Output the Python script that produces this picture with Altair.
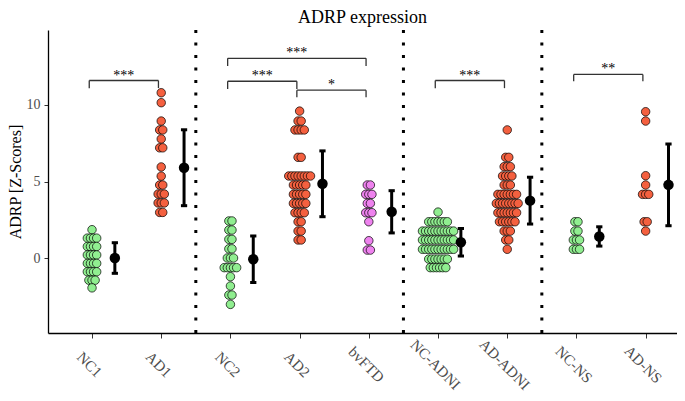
import altair as alt
import pandas as pd

# ---------------- data ----------------
groups = ["NC1", "AD1", "NC2", "AD2", "bvFTD", "NC-ADNI", "AD-ADNI", "NC-NS", "AD-NS"]
group_kind = ["NC", "AD", "NC", "AD", "FTD", "NC", "AD", "NC", "AD"]
studies = [["NC1", "AD1"], ["NC2", "AD2", "bvFTD"], ["NC-ADNI", "AD-ADNI"], ["NC-NS", "AD-NS"]]

nc1_levels = [1.85, 1.3, 0.75, 0.2, -0.35, -0.9, -1.45, -1.95]
nc1_counts = [1, 4, 4, 4, 4, 4, 3, 1]
ad1_levels = [10.8, 10.15, 8.95, 8.37, 7.78, 7.2, 5.95, 5.35, 4.77, 4.18, 3.6, 2.98]
ad1_counts = [1, 1, 1, 2, 1, 2, 1, 1, 2, 3, 3, 2]
nc2_levels = [2.42, 1.83, 1.22, 0.6, 0.0, -0.63, -1.22, -1.83, -2.42, -3.03]
nc2_counts = [2, 2, 2, 2, 3, 5, 1, 1, 2, 1]
ad2_levels = [9.6, 8.95, 8.37, 6.58, 5.36, 4.77, 4.16, 3.57, 2.96, 2.37, 1.76, 1.18]
ad2_counts = [1, 2, 4, 2, 8, 5, 5, 5, 4, 2, 2, 2]
ftd_levels = [4.77, 4.16, 3.57, 2.96, 2.37, 1.13, 0.52]
ftd_counts = [2, 3, 2, 3, 1, 1, 2]
ncadni_levels = [3.0, 2.37, 1.76, 1.18, 0.57, -0.07, -0.63]
ncadni_counts = [1, 7, 11, 11, 11, 7, 6]
adadni_levels = [8.37, 6.58, 5.97, 5.36, 4.77, 4.16, 3.57, 2.96, 2.37, 1.76, 1.18, 0.57]
adadni_counts = [1, 2, 3, 4, 3, 7, 8, 7, 6, 3, 2, 1]
ncns_levels = [2.37, 1.76, 1.18, 0.57]
ncns_counts = [2, 2, 3, 3]
adns_levels = [9.56, 8.95, 5.38, 4.77, 4.16, 2.37, 1.76]
adns_counts = [1, 1, 1, 1, 3, 2, 1]

means = [0.0, 5.9, -0.08, 4.85, 3.02, 1.03, 3.75, 1.41, 4.78]
sds = [1.0, 2.48, 1.52, 2.15, 1.38, 0.9, 1.53, 0.63, 2.67]

cmp_left = ["NC1", "NC2", "NC2", "AD2", "NC-ADNI", "NC-NS"]
cmp_right = ["AD1", "bvFTD", "AD2", "bvFTD", "AD-ADNI", "AD-NS"]
cmp_top = [11.6, 13.05, 11.55, 10.97, 11.6, 12.0]
cmp_drop = [11.1, 12.55, 11.05, 10.5, 11.1, 11.55]
cmp_label = ["***", "***", "***", "*", "***", "**"]

kind_domain = ["NC", "AD", "FTD"]
kind_colors = ["#90EE90", "#F4603F", "#EE82EE"]

# ---------------- build tables ----------------
all_levels = [nc1_levels, ad1_levels, nc2_levels, ad2_levels, ftd_levels,
              ncadni_levels, adadni_levels, ncns_levels, adns_levels]
all_counts = [nc1_counts, ad1_counts, nc2_counts, ad2_counts, ftd_counts,
              ncadni_counts, adadni_counts, ncns_counts, adns_counts]
pos = {g: i + 1 for i, g in enumerate(groups)}
DOT_STEP = 0.045
ERR_SHIFT = 0.33
CAP = 0.045
BR_SHIFT = -0.04

rows = []
for g, kind, lv, ct in zip(groups, group_kind, all_levels, all_counts):
    for yv, n in zip(lv, ct):
        for i in range(n):
            rows.append({"group": g, "kind": kind, "y": yv,
                         "xx": pos[g] + (i - (n - 1) / 2) * DOT_STEP})
dots = pd.DataFrame(rows)

err = pd.DataFrame({"group": groups, "mean": means, "sd": sds})
err["xe"] = [pos[g] + ERR_SHIFT for g in groups]
err["lo"] = err["mean"] - err["sd"]
err["hi"] = err["mean"] + err["sd"]
caps = pd.concat([
    pd.DataFrame({"x1": err["xe"] - CAP, "x2": err["xe"] + CAP, "y": err["lo"]}),
    pd.DataFrame({"x1": err["xe"] - CAP, "x2": err["xe"] + CAP, "y": err["hi"]}),
])

seps = pd.DataFrame({"sx": [pos[s[-1]] + 0.5 for s in studies[:-1]]})

seg = []
lab = []
for a, b, t, d, l in zip(cmp_left, cmp_right, cmp_top, cmp_drop, cmp_label):
    xa, xb = pos[a] + BR_SHIFT, pos[b] + BR_SHIFT
    seg.append({"x1": xa, "x2": xb, "y1": t, "y2": t})
    seg.append({"x1": xa, "x2": xa, "y1": t, "y2": d})
    seg.append({"x1": xb, "x2": xb, "y1": t, "y2": d})
    lab.append({"xm": (xa + xb) / 2, "y": t, "label": l})
segs = pd.DataFrame(seg)
labs = pd.DataFrame(lab)

# ---------------- scales / axes ----------------
FONT = "Liberation Serif"
xs = alt.Scale(domain=[0.364, 9.453], nice=False, zero=False)
ys = alt.Scale(domain=[-4.9, 14.9], nice=False, zero=False)
label_expr = "[" + ",".join("'" + g + "'" for g in groups) + "][datum.value - 1]"
xaxis = alt.Axis(values=list(range(1, len(groups) + 1)), labelExpr=label_expr, title=None,
                 labelAngle=45, labelAlign="center", labelBaseline="middle",
                 labelPadding=26, labelOffset=-3, tickSize=5, labelFontSize=15, labelFont=FONT,
                 labelColor="#4D4D4D", grid=False, domainColor="black", domainWidth=1.3,
                 tickColor="#333333", labelOverlap=False)
yaxis = alt.Axis(values=[0, 5, 10], title="ADRP [Z-Scores]", grid=False,
                 labelFontSize=14, labelFont=FONT, labelColor="#4D4D4D", labelPadding=4,
                 tickSize=4, tickColor="#333333", domainColor="black", domainWidth=1.3,
                 titleFont=FONT, titleFontSize=16, titleFontWeight="normal", titleColor="black",
                 titleAngle=270, titleX=-32.5, titleY=151.5, titleAlign="center",
                 titleBaseline="middle")


def X(f):
    return alt.X(f, type="quantitative", scale=xs, axis=xaxis)


def Y(f):
    return alt.Y(f, type="quantitative", scale=ys, axis=yaxis)


sep_layer = alt.Chart(seps).mark_rule(color="black", strokeWidth=3, strokeDash=[3, 9.5]).encode(
    x=X("sx"))

br_layer = alt.Chart(segs).mark_rule(color="#333333", strokeWidth=1.3).encode(
    x=X("x1"), x2=alt.X2("x2"), y=Y("y1"), y2=alt.Y2("y2"))

lab_layer = alt.Chart(labs).mark_text(font=FONT, fontSize=14, color="black",
                                      baseline="alphabetic", dy=-1).encode(
    x=X("xm"), y=Y("y"), text="label:N")

dot_layer = alt.Chart(dots).mark_point(filled=True, size=72, stroke="black", strokeWidth=0.7,
                                       opacity=1, shape="circle").encode(
    x=X("xx"), y=Y("y"),
    fill=alt.Fill("kind:N", scale=alt.Scale(domain=kind_domain, range=kind_colors), legend=None))

err_layer = alt.Chart(err).mark_rule(color="black", strokeWidth=3).encode(
    x=X("xe"), y=Y("lo"), y2=alt.Y2("hi"))

cap_layer = alt.Chart(caps).mark_rule(color="black", strokeWidth=3).encode(
    x=X("x1"), x2=alt.X2("x2"), y=Y("y"))

mean_layer = alt.Chart(err).mark_point(filled=True, size=110, color="black", opacity=1,
                                       shape="circle").encode(
    x=X("xe"), y=Y("mean"))

chart = alt.layer(sep_layer, br_layer, lab_layer, dot_layer, err_layer, cap_layer, mean_layer).properties(
    width=629, height=303,
    title=alt.Title("ADRP expression", font=FONT, fontSize=18, fontWeight="normal",
                    color="black", offset=2),
    autosize=alt.AutoSizeParams(type="none"),
    padding={"left": 40, "top": 22, "right": 0, "bottom": 60},
).configure_view(stroke=None)

chart.save("out.html", embed_options={"renderer": "svg", "actions": False})
